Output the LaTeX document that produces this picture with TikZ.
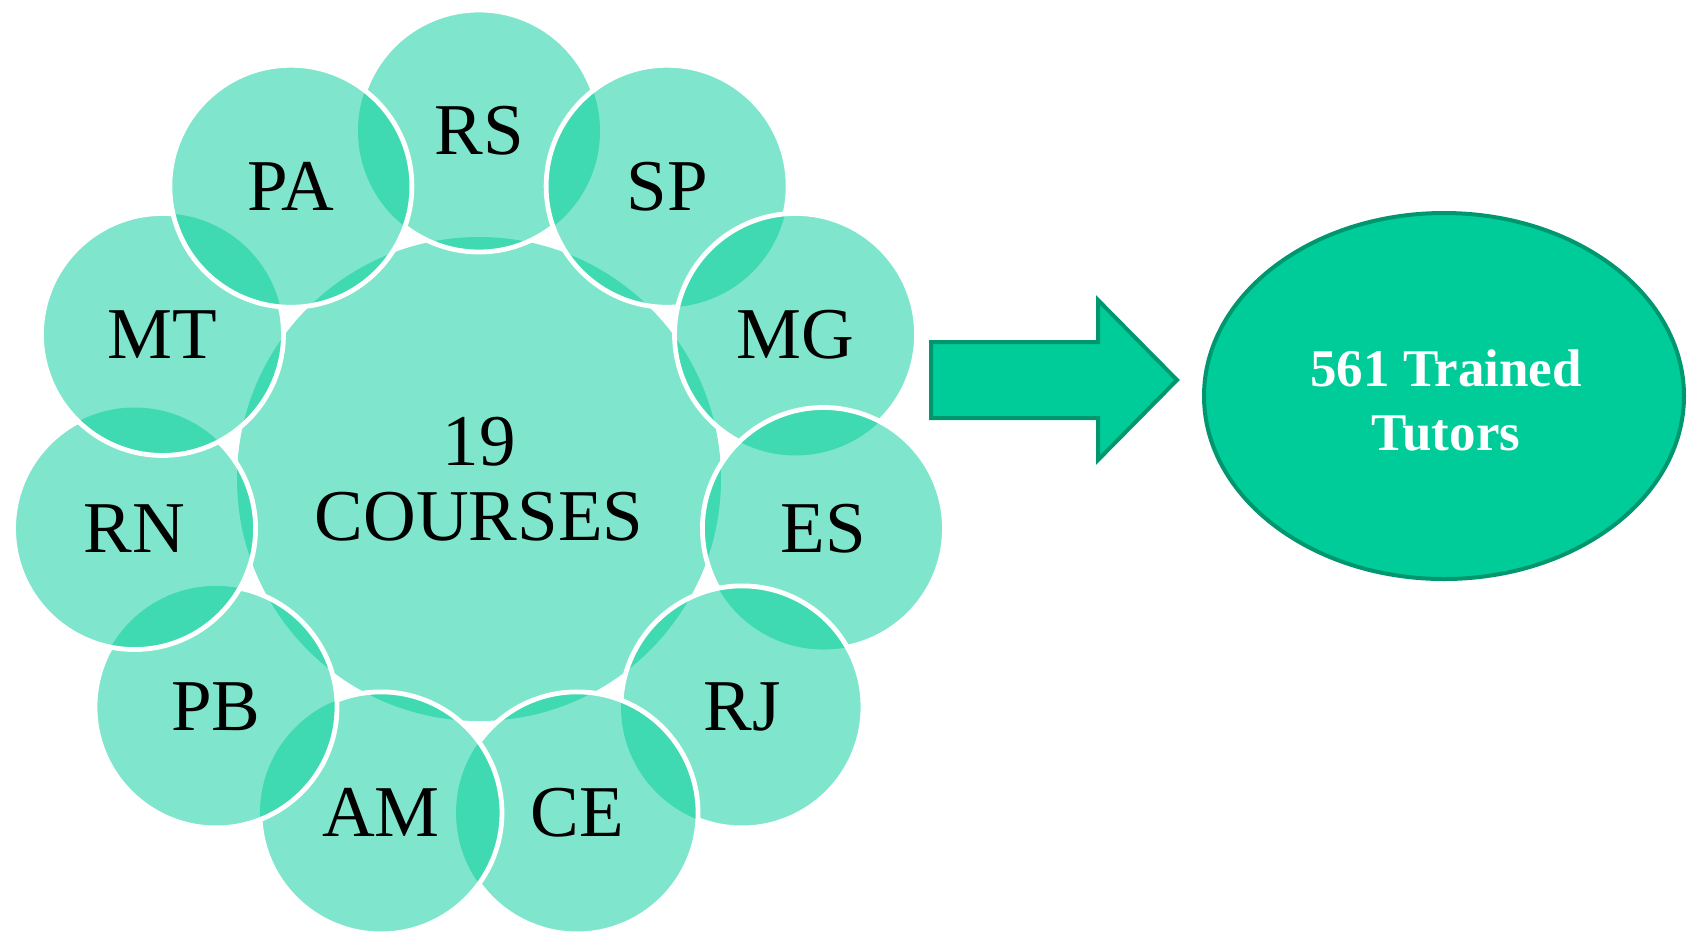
\documentclass[tikz,border=0pt]{standalone}
\usepackage{fontspec}
\setmainfont{Liberation Serif}
\usetikzlibrary{shapes.geometric}
\definecolor{tealfill}{HTML}{00CC99}
\definecolor{tealline}{HTML}{00966E}
\newcommand\outsideof[1]{\path[clip] (-20,-20) rectangle (1710,960) (#1) circle[radius=60.5pt];}
\begin{document}
\begin{tikzpicture}[x=0.5pt,y=-0.5pt,
  bubble/.style={fill=tealfill, fill opacity=0.5},
  rim/.style={draw=white, line width=2.4pt},
  lbl/.style={font=\fontsize{36.5}{38}\selectfont, text=black, inner sep=0pt}]
\useasboundingbox (0,0) rectangle (1688,933);
\coordinate (C) at (479,479);
\foreach \n/\t in {RS/-90,SP/-57.273,MG/-24.545,ES/8.182,RJ/40.909,CE/73.636,AM/106.364,PB/139.091,RN/171.818,MT/204.545,PA/237.273}
  \coordinate (c\n) at ({479+348*cos(\t)},{479+348*sin(\t)});
% fills
\fill[bubble] (C) circle[radius=121pt];
\foreach \n in {RS,SP,MG,ES,RJ,CE,AM,PB,RN,MT,PA}
  \fill[bubble] (c\n) circle[radius=60.5pt];
% rims of the outer circles (each one hidden under the next circle)
\begin{scope}[even odd rule]\outsideof{cSP}\outsideof{cPA}\draw[rim] (cRS) circle[radius=60.5pt];\end{scope}
\foreach \a/\b in {SP/MG,MG/ES,ES/RJ,RJ/CE,CE/AM,AM/PB,PB/RN,RN/MT,MT/PA}{
  \begin{scope}[even odd rule]\outsideof{c\b}\draw[rim] (c\a) circle[radius=60.5pt];\end{scope}
}
\draw[rim] (cPA) circle[radius=60.5pt];
% labels
\foreach \n in {RS,SP,MG,ES,RJ,CE,AM,PB,RN,MT,PA}
  \node[lbl] (\n) at (c\n) {\n};
\node[lbl, align=center, font=\fontsize{36.5}{37.5}\selectfont] (courses) at (C) {19\\COURSES};
% block arrow
\draw[fill=tealfill, draw=tealline, line width=2pt, line join=miter]
  (931,342) -- (1098,342) -- (1098,300) -- (1177,380) -- (1098,460) -- (1098,418) -- (931,418) -- cycle;
% result ellipse
\node[ellipse, draw=tealline, fill=tealfill, line width=2pt, inner sep=0pt,
  minimum width=240pt, minimum height=183pt] (tutors) at (1444,396) {};
\node[text=white, align=center, inner sep=0pt,
  font=\bfseries\fontsize{26.5}{32}\selectfont] (tutorstext) at (1446,400) {561 Trained\\Tutors};
\end{tikzpicture}
\end{document}
